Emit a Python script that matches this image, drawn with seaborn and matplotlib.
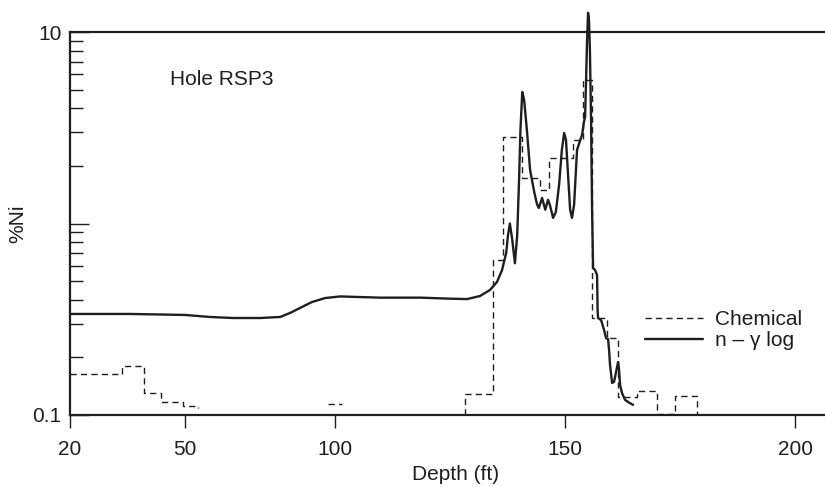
import numpy as np
import pandas as pd
import seaborn as sns
import matplotlib.pyplot as plt
from matplotlib.lines import Line2D
from matplotlib.ticker import FixedLocator, NullFormatter

# n-gamma log (depth in ft, %Ni)
log_depth = [20, 35.7, 50, 58.3, 66, 75, 81.7, 85, 88.3, 92.3, 96.7, 101.1, 109.8,
             118.5, 125, 128.7, 131.5, 133.7, 135.2, 136.3, 137.2, 137.6, 138, 138.5,
             139.1, 139.6, 140, 140.3, 140.7, 141.1, 141.7, 142.4, 143.3, 143.9, 144.3,
             145, 145.7, 146.3, 146.7, 147.4, 148, 148.7, 149.3, 149.8, 150.2, 150.65,
             151.1, 151.5, 151.96, 152.6, 153.3, 153.7, 154.1, 154.35, 154.57, 154.78,
             155, 155.2, 155.4, 155.65, 155.87, 156.09, 156.52, 156.96, 157.07, 157.17,
             157.83, 158.48, 158.91, 159.35, 159.57, 159.78, 160.22, 160.65, 161.09,
             161.52, 161.74, 161.96, 162.39, 163.04, 163.91, 164.78]
log_ni = [0.337, 0.337, 0.333, 0.325, 0.321, 0.321, 0.325, 0.341, 0.362, 0.389, 0.408,
          0.416, 0.41, 0.41, 0.405, 0.403, 0.418, 0.45, 0.495, 0.571, 0.702, 0.871, 1.0,
          0.83, 0.62, 0.871, 1.69, 3.08, 4.86, 4.42, 3.08, 1.9, 1.46, 1.26, 1.205,
          1.36, 1.18, 1.33, 1.25, 1.07, 1.15, 1.59, 2.42, 2.97, 2.73, 1.79,
          1.18, 1.07, 1.25, 2.42, 2.73, 2.9, 3.39, 3.6, 5.61, 9.08,
          12.6, 11.55, 8.06, 3.47, 1.18, 0.585, 0.571, 0.538, 0.353, 0.321,
          0.313, 0.278, 0.252, 0.249, 0.218, 0.182, 0.147, 0.149, 0.168,
          0.189, 0.172, 0.143, 0.130, 0.120, 0.116, 0.113]

# chemical assays, step values (three separate runs)
chem_depth = [20, 33.6, 39.3, 43.7, 49.5, 54.2,
              97.7, 101.5,
              128.3, 128.3, 134.3, 136.5, 140.7, 144.6, 146.5, 151.7, 153.9, 155.9,
              159.1, 161.5, 165.6, 170.0, 173.9, 178.7]
chem_ni = [0.164, 0.180, 0.130, 0.1164, 0.1114, 0.109,
           0.1146, 0.1146,
           0.1, 0.128, 0.645, 2.83, 1.73, 1.50, 2.20, 2.73, 5.61, 0.321,
           0.252, 0.124, 0.1334, 0.101, 0.1256, 0.1]
chem_run = [1] * 6 + [2] * 2 + [3] * 16

depth_ticks = [20, 50, 100, 150, 200]

# the printed depth axis is not evenly spaced; map it piecewise
scale_depth = [0, 20, 50, 100, 150, 200, 300]
scale_pos = [-76.7, 0, 115, 265, 495, 725, 1185]


def fwd(x):
    return np.interp(x, scale_depth, scale_pos)


def inv(x):
    return np.interp(x, scale_pos, scale_depth)


sns.set_style("ticks")
plt.rcParams["font.family"] = ["Liberation Sans", "DejaVu Sans"]
ink = "#1e1e1e"
fs = 15

fig = plt.figure(figsize=(8.25, 4.87), dpi=100)
ax = fig.add_axes([70 / 825, 1 - 415 / 487, 755 / 825, 383 / 487])
ax.set_xscale("function", functions=(fwd, inv))
ax.set_yscale("log")

chem = pd.DataFrame({"depth": chem_depth, "ni": chem_ni, "run": chem_run})
logdf = pd.DataFrame({"depth": log_depth, "ni": log_ni})

sns.lineplot(data=chem, x="depth", y="ni", units="run", estimator=None, sort=False,
             drawstyle="steps-post", color=ink, lw=1.0, linestyle=(0, (4.5, 3)), ax=ax)
sns.lineplot(data=logdf, x="depth", y="ni", estimator=None, sort=False,
             color=ink, lw=1.7, clip_on=False, ax=ax)

ax.set_xlim(20, 206.5)
ax.set_ylim(0.1, 10)
ax.set_xticks(depth_ticks)
ax.set_xticklabels([str(d) for d in depth_ticks])
ax.xaxis.set_minor_locator(FixedLocator([]))
ax.set_yticks([0.1, 1, 10])
ax.set_yticklabels(["0.1", "", "10"])
minor = [m * 10.0 ** e for e in (-1, 0) for m in range(2, 10)]
ax.yaxis.set_minor_locator(FixedLocator(minor))
ax.yaxis.set_minor_formatter(NullFormatter())

ax.tick_params(axis="x", direction="out", length=9, width=1, pad=9,
               labelsize=fs, colors=ink)
ax.tick_params(axis="y", which="major", direction="in", length=14, width=1, pad=6,
               labelsize=fs, colors=ink)
ax.tick_params(axis="y", which="minor", direction="in", length=9, width=1, colors=ink)

for side in ["left", "top", "bottom"]:
    ax.spines[side].set_linewidth(1.6)
    ax.spines[side].set_color(ink)
ax.spines["right"].set_visible(False)

ax.set_xlabel("Depth (ft)", fontsize=fs, color=ink)
ax.xaxis.set_label_coords(0.511, -0.13)
ax.set_ylabel("%Ni", fontsize=fs, color=ink)
ax.yaxis.set_label_coords(-0.056, 0.5)

ax.text(0.1325, 0.875, "Hole RSP3", transform=ax.transAxes, fontsize=fs,
        color=ink, va="center", ha="left")

handles = [Line2D([], [], color=ink, lw=1.0, linestyle=(0, (4.5, 3))),
           Line2D([], [], color=ink, lw=1.7)]
ax.legend(handles, ["Chemical", "n \u2013 \u03b3 log"], loc="upper left",
          bbox_to_anchor=(0.7616, 0.274), frameon=False, fontsize=fs,
          handlelength=2.8, handletextpad=0.55, labelspacing=0.1,
          borderpad=0, borderaxespad=0, labelcolor=ink)

fig.savefig("out.png", dpi=100)
